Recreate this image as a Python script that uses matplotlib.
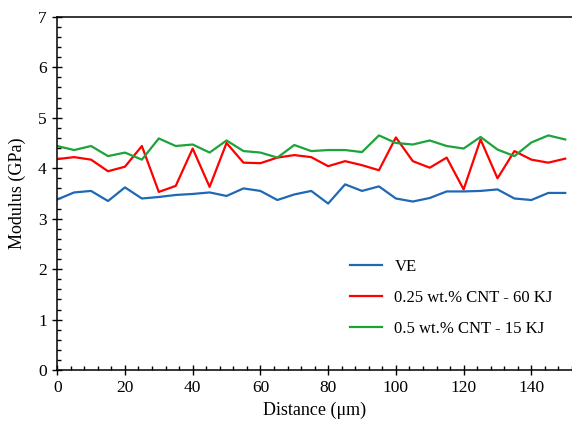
import numpy as np
import matplotlib
matplotlib.use("Agg")
import matplotlib.pyplot as plt
from matplotlib.ticker import MultipleLocator

plt.rcParams['font.family'] = ['Liberation Serif', 'DejaVu Serif']

distance = np.arange(0, 151, 5)

ve = [3.38, 3.52, 3.55, 3.35, 3.62, 3.40, 3.43, 3.47, 3.49, 3.52, 3.45,
      3.60, 3.55, 3.37, 3.48, 3.55, 3.30, 3.68, 3.55, 3.64, 3.40, 3.34,
      3.41, 3.54, 3.54, 3.55, 3.58, 3.40, 3.37, 3.51, 3.51]
cnt_025 = [4.18, 4.22, 4.17, 3.94, 4.03, 4.44, 3.53, 3.65, 4.39, 3.63, 4.50,
           4.11, 4.10, 4.21, 4.26, 4.22, 4.04, 4.14, 4.06, 3.96, 4.61, 4.14,
           4.01, 4.21, 3.58, 4.57, 3.80, 4.34, 4.17, 4.11, 4.19]
cnt_05 = [4.44, 4.36, 4.44, 4.24, 4.31, 4.17, 4.59, 4.44, 4.47, 4.31, 4.55,
          4.34, 4.31, 4.21, 4.46, 4.34, 4.36, 4.36, 4.32, 4.65, 4.50, 4.47,
          4.55, 4.44, 4.39, 4.62, 4.37, 4.24, 4.51, 4.65, 4.57]

labels = ["VE", "0.25 wt.% CNT - 60 KJ", "0.5 wt.% CNT - 15 KJ"]
colors = ["#1F68B6", "#FF0000", "#1CA33A"]

fig = plt.figure(figsize=(5.72, 4.21), dpi=100)
ax = fig.add_axes([0.1, 0.121, 0.9, 0.839])

for vals, lab, c in zip([ve, cnt_025, cnt_05], labels, colors):
    ax.plot(distance, vals, color=c, lw=1.6, label=lab)

ax.set_xlim(0, 152)
ax.set_ylim(0, 7)
ax.xaxis.set_major_locator(MultipleLocator(20))
ax.xaxis.set_minor_locator(MultipleLocator(4))
ax.yaxis.set_major_locator(MultipleLocator(1))
ax.yaxis.set_minor_locator(MultipleLocator(0.2))
ax.tick_params(which='major', direction='inout', length=7, width=1, labelsize=12.5, pad=4)
ax.tick_params(which='minor', direction='in', length=3, width=1)
for s in ['left', 'bottom', 'top']:
    ax.spines[s].set_linewidth(1.1)
ax.spines['right'].set_visible(False)

ax.set_xlabel("Distance (\u03bcm)", fontsize=13, labelpad=4)
ax.set_ylabel("Modulus (GPa)", fontsize=13, labelpad=9)

ax.legend(loc='lower left', bbox_to_anchor=(0.54, 0.052), frameon=False,
          fontsize=12, handlelength=1.9, labelspacing=0.9, handletextpad=0.75)

fig.savefig("out.png", dpi=100)
